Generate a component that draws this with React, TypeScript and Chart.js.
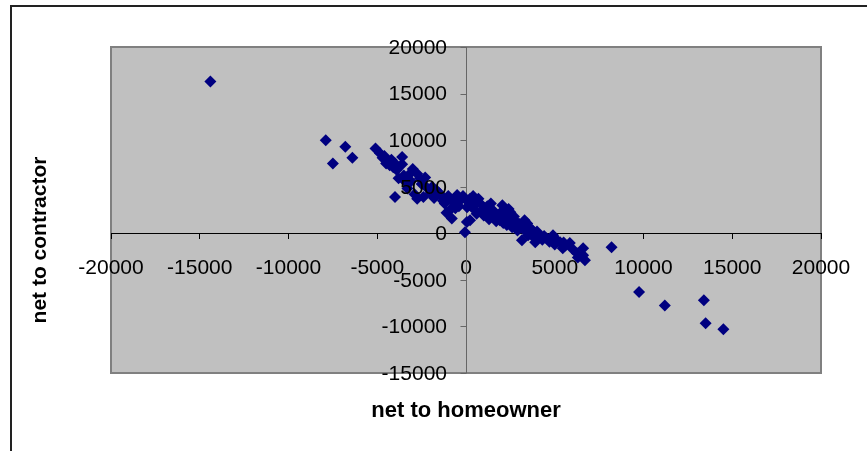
import React, { useEffect, useRef } from "react";
import { Chart, registerables } from "chart.js";

Chart.register(...registerables);

// net to homeowner (x) and net to contractor (y)
const homeownerNet: number[] = [
  -14400, -7900, -7500, -6800, -6400, -5100, -4850, -4700, -4500, -4300,
  -4000, -3600, -3600, -3900, -3800, -4000, -3400, -3000, -2750, -2600,
  -2750, -2400, -2000, -2200, -1650, -1350, -1200, -900, -800, -900,
  -500, -350, -60, 230, 60, 400, 620, -170, 230, 50,
  800, 1050, 1350, 1650, 2050, 2500, 2100, 2600, 2900, 3150,
  3450, 3750, 4150, 3900, 4550, 4900, 5300, 5450, 5850, 6250,
  6600, 6700, 2750, 6600, 8200, 9750, 11200, 13400, 13500, 14500,
  -3200, -2500, -1900, -1500, -1000, -700, -1100, 100, 300, 500,
  700, 900, 1200, 1500, 1800, 1700, 2200, 2400, 2300, 2700,
  3000, 3200, 3300, 3500, 3600, 4000, 4300, 4700, 5100, 5600,
  6000, 6300, -4200, -3300, -2900, -600, 1000, -2300, 1400,
  -4600, -4100, -3500, -3100, -1800, -1300, -400, 200, 600, 1100,
  1300, 1900, 2000, 2400, 2900, 3400, 3800, 4400, 5000, 5500,
];
const contractorNet: number[] = [
  16300, 10000, 7500, 9300, 8100, 9100, 8600, 8100, 7500, 7300,
  7500, 8200, 7400, 6800, 5900, 3900, 5500, 6900, 6400, 5900,
  3700, 3900, 4300, 4900, 4600, 3900, 3200, 2500, 1600, 3700,
  4100, 3500, 100, 1400, 2800, 4000, 3300, 4000, 3700, 1200,
  3200, 2700, 2150, 1600, 3000, 2250, 1100, 650, 300, -750,
  1050, 300, -200, -950, -550, -200, -950, -1600, -1050, -2150,
  -2350, -2900, 1400, -1600, -1500, -6300, -7750, -7200, -9650, -10300,
  6300, 5300, 5000, 4300, 4000, 3300, 2200, 3400, 2900, 2500,
  3700, 2400, 2900, 2500, 1900, 1300, 1700, 2600, 900, 1800,
  1000, 500, 1400, -200, 600, 200, -700, -900, -700, -1300,
  -1700, -2600, 7900, 4800, 4200, 2700, 1900, 6000, 3200,
  8300, 7100, 6200, 5600, 3800, 3500, 2900, 3100, 2100, 2300,
  1500, 1400, 2300, 1200, 900, 200, -400, -300, -1200, -1000,
];

const xMin = -20000;
const xMax = 20000;
const yMin = -15000;
const yMax = 20000;
const tickStep = 5000;

const xTitle = "net to homeowner";
const yTitle = "net to contractor";

const FONT = "'Liberation Sans', Arial, sans-serif";

export default function App() {
  const ref = useRef<HTMLCanvasElement | null>(null);

  useEffect(() => {
    if (!ref.current) return;
    const points = homeownerNet.map((x, i) => ({ x, y: contractorNet[i] }));

    const frame = {
      id: "frame",
      beforeDraw(chart: any) {
        const { ctx, chartArea: a } = chart;
        ctx.save();
        ctx.fillStyle = "#ffffff";
        ctx.fillRect(0, 0, chart.width, chart.height);
        ctx.fillStyle = "#222222";
        ctx.fillRect(10, 5, chart.width - 10, 2);
        ctx.fillRect(10, 5, 2, chart.height - 5);
        ctx.fillStyle = "#c0c0c0";
        ctx.fillRect(a.left, a.top, a.right - a.left, a.bottom - a.top);
        ctx.strokeStyle = "#808080";
        ctx.lineWidth = 2;
        ctx.strokeRect(a.left, a.top, a.right - a.left, a.bottom - a.top);
        ctx.restore();
      },
      beforeDatasetsDraw(chart: any) {
        const { ctx, chartArea: a, scales } = chart;
        const x0 = Math.round(scales.x.getPixelForValue(0)) + 0.5;
        const y0 = Math.round(scales.y.getPixelForValue(0)) + 0.5;
        ctx.save();
        ctx.lineWidth = 1;
        ctx.strokeStyle = "#000000";
        ctx.beginPath();
        ctx.moveTo(a.left, y0);
        ctx.lineTo(a.right, y0);
        ctx.stroke();
        ctx.strokeStyle = "#666666";
        ctx.beginPath();
        ctx.moveTo(x0, a.top);
        ctx.lineTo(x0, a.bottom);
        for (let v = yMin; v <= yMax; v += tickStep) {
          const py = Math.round(scales.y.getPixelForValue(v)) + 0.5;
          ctx.moveTo(x0 - 6, py);
          ctx.lineTo(x0, py);
        }
        ctx.stroke();
        ctx.restore();
      },
      afterDraw(chart: any) {
        const { ctx, scales } = chart;
        ctx.save();
        ctx.fillStyle = "#000000";
        // y tick labels
        ctx.font = `21px ${FONT}`;
        ctx.textAlign = "right";
        ctx.textBaseline = "middle";
        const xLab = scales.x.getPixelForValue(0) - 19;
        for (let v = yMin; v <= yMax; v += tickStep) {
          ctx.fillText(String(v), xLab, scales.y.getPixelForValue(v) + 1);
        }
        // titles
        ctx.textAlign = "center";
        ctx.font = `bold 22px ${FONT}`;
        ctx.fillText(xTitle, 466, 411);
        ctx.translate(40, 240);
        ctx.rotate(-Math.PI / 2);
        ctx.font = `bold 21px ${FONT}`;
        ctx.fillText(yTitle, 0, 0);
        ctx.restore();
      },
    };

    const chart = new Chart(ref.current, {
      type: "scatter",
      data: {
        datasets: [
          {
            data: points,
            pointStyle: "rectRot",
            pointRadius: 6,
            pointBackgroundColor: "#000080",
            pointBorderColor: "#000080",
            pointBorderWidth: 0,
          },
        ],
      },
      options: {
        responsive: false,
        animation: false,
        devicePixelRatio: 1,
        layout: { padding: { left: 111, right: 46, top: 47, bottom: 78 } },
        plugins: { legend: { display: false }, tooltip: { enabled: false } },
        scales: {
          x: {
            type: "linear",
            position: { y: 0 },
            min: xMin,
            max: xMax,
            z: 1,
            border: { display: false },
            grid: { drawOnChartArea: false, drawTicks: true, tickLength: 6, color: "#000000" },
            ticks: {
              stepSize: tickStep,
              padding: 16,
              color: "#000000",
              font: { family: FONT, size: 21 },
              maxRotation: 0,
              autoSkip: false,
              callback: (v: any) => String(v),
            },
          },
          y: {
            type: "linear",
            position: { x: 0 },
            min: yMin,
            max: yMax,
            z: 1,
            display: true,
            border: { display: false },
            grid: { display: false },
            ticks: {
              stepSize: tickStep,
              color: "#000000",
              font: { family: FONT, size: 21 },
              autoSkip: false,
              callback: () => "",
            },
          },
        },
      },
      plugins: [frame],
    });
    return () => chart.destroy();
  }, []);

  return (
    <div style={{ position: "absolute", left: 0, top: 0, width: 867, height: 451 }}>
      <canvas ref={ref} width={867} height={451} style={{ width: 867, height: 451 }} />
    </div>
  );
}
